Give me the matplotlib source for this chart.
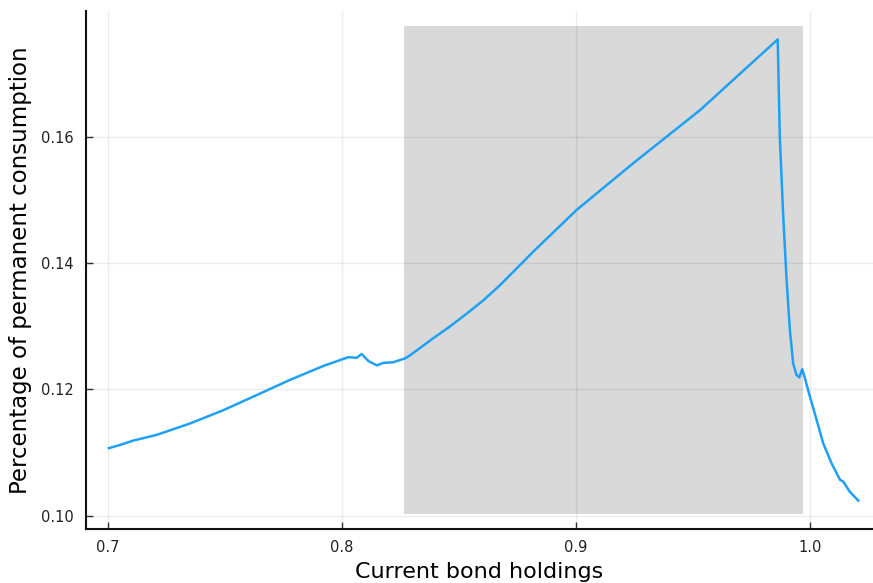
import matplotlib
matplotlib.use("Agg")
import matplotlib.pyplot as plt

# curve (bond holdings -> share of permanent consumption)
bonds = [0.7006, 0.7053, 0.7110, 0.7210, 0.7352, 0.7494, 0.7637, 0.7779,
         0.7921, 0.8028, 0.8064, 0.8085, 0.8114, 0.8150, 0.8178, 0.8220,
         0.8270, 0.8292, 0.8391, 0.8460, 0.8534, 0.8605, 0.8676, 0.8818,
         0.9003, 0.9245, 0.9530, 0.9862, 0.9871, 0.9885, 0.9900, 0.9914,
         0.9928, 0.9942, 0.9954, 0.9967, 0.9978, 1.0000, 1.0028, 1.0056,
         1.0092, 1.0128, 1.0142, 1.0170, 1.0206]
share = [0.1107, 0.1112, 0.1119, 0.1128, 0.1146, 0.1167, 0.1191, 0.1215,
         0.1237, 0.1251, 0.1250, 0.1256, 0.1245, 0.1238, 0.1242, 0.1243,
         0.1249, 0.1254, 0.1281, 0.1299, 0.1320, 0.1341, 0.1365, 0.1418,
         0.1484, 0.1558, 0.1642, 0.1754, 0.1600, 0.1479, 0.1373, 0.1294,
         0.1241, 0.1223, 0.1219, 0.1232, 0.1218, 0.1188, 0.1152, 0.1115,
         0.1083, 0.1057, 0.1054, 0.1038, 0.1024]

# shaded band
band_x = [0.8268, 0.9970]
band_y = [0.1002, 0.1776]

xticks = [0.7, 0.8, 0.9, 1.0]
yticks = [0.10, 0.12, 0.14, 0.16]

plt.rcParams["font.family"] = ["DejaVu Sans"]

fig = plt.figure(figsize=(8.73, 5.83), dpi=100)
ax = fig.add_axes([86 / 873, 54 / 583, 1 - 86 / 873, (529 - 11) / 583])

ax.fill_between(band_x, band_y[0], band_y[1], color="#d9d9d9",
                linewidth=0, zorder=1)
ax.plot(bonds, share, color="#1ea1f5", linewidth=1.8, zorder=3)

ax.set_xlim(0.6908, 1.0269)
ax.set_ylim(0.0979, 0.1799)
ax.set_xticks(xticks)
ax.set_xticklabels(["0.7", "0.8", "0.9", "1.0"])
ax.set_yticks(yticks)
ax.set_yticklabels(["0.10", "0.12", "0.14", "0.16"])

ax.grid(True, color="#000000", alpha=0.07, linewidth=1)
ax.tick_params(direction="in", length=5, width=1, color="#333333",
               labelsize=10.5, labelcolor="#222222")
ax.tick_params(axis="x", pad=8)
ax.tick_params(axis="y", pad=9)

for s in ["top", "right"]:
    ax.spines[s].set_visible(False)
for s in ["left", "bottom"]:
    ax.spines[s].set_linewidth(1.5)
    ax.spines[s].set_color("#111111")

ax.set_xlabel("Current bond holdings", fontsize=16, labelpad=5)
ax.set_ylabel("Percentage of permanent consumption", fontsize=16.5, labelpad=6)

fig.savefig("out.png", dpi=100, facecolor="white")
